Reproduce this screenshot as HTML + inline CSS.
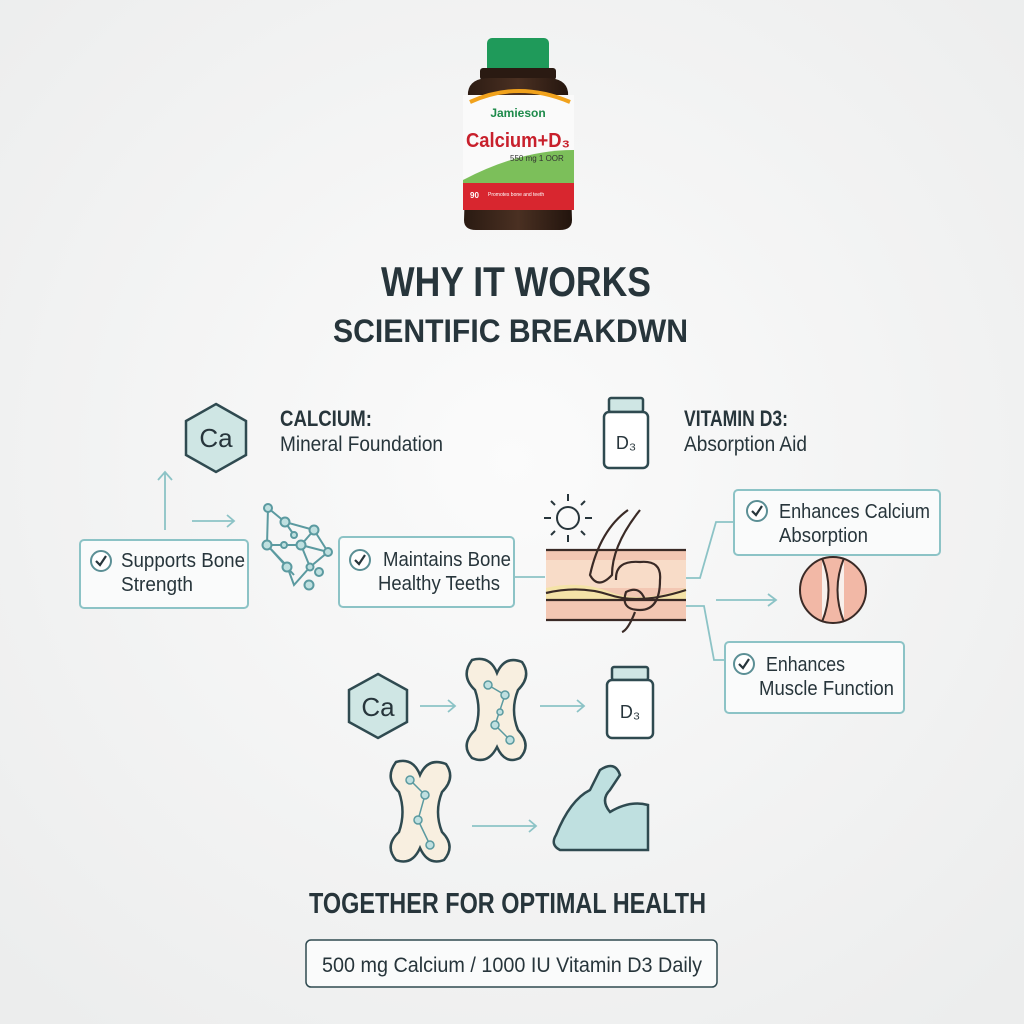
<!DOCTYPE html>
<html><head><meta charset="utf-8"><style>
html,body{margin:0;padding:0;width:1024px;height:1024px;overflow:hidden;background:#f3f4f4}
svg{display:block}
text{font-family:"Liberation Sans",sans-serif;fill:#27353b}
</style></head><body>
<svg width="1024" height="1024" viewBox="0 0 1024 1024" xmlns="http://www.w3.org/2000/svg">
<defs>
<radialGradient id="bg" cx="50%" cy="45%" r="70%"><stop offset="0" stop-color="#fbfbfb"/><stop offset="1" stop-color="#eceded"/></radialGradient>
<linearGradient id="bot" x1="0" x2="1"><stop offset="0" stop-color="#2a1a12"/><stop offset=".5" stop-color="#4a3022"/><stop offset="1" stop-color="#22140d"/></linearGradient>
</defs>
<rect width="1024" height="1024" fill="url(#bg)"/>

<!-- product bottle -->
<rect x="487" y="38" width="62" height="36" rx="5" fill="#1f9a5a"/>
<rect x="480" y="68" width="76" height="12" rx="3" fill="#2a1a12"/>
<path d="M468 92 Q470 78 490 78 L546 78 Q566 78 568 92 L572 220 Q572 230 560 230 L476 230 Q464 230 464 220 Z" fill="url(#bot)"/>
<rect x="463" y="95" width="111" height="112" fill="#fafafa"/>
<path d="M463 180 Q520 150 574 150 L574 185 L463 185 Z" fill="#7cbf5a"/>
<rect x="463" y="183" width="111" height="27" fill="#d8262f"/>
<path d="M470 102 Q518 80 570 102" stroke="#f1a21c" stroke-width="4" fill="none"/>
<text x="518" y="117" font-size="12" font-weight="bold" text-anchor="middle" style="fill:#1d8a4a">Jamieson</text>
<text x="466" y="147" font-size="20" font-weight="bold" textLength="104" lengthAdjust="spacingAndGlyphs" style="fill:#c8202c">Calcium+D₃</text>
<text x="510" y="161" font-size="8" style="fill:#333">550 mg  1 OOR</text>
<text x="470" y="198" font-size="8" font-weight="bold" style="fill:#fff">90</text>
<text x="488" y="196" font-size="5" style="fill:#fff">Promotes bone and teeth</text>

<!-- titles -->
<text x="381" y="296" font-size="42" font-weight="bold" textLength="270" lengthAdjust="spacingAndGlyphs">WHY IT WORKS</text>
<text x="333" y="342" font-size="32" font-weight="bold" textLength="355" lengthAdjust="spacingAndGlyphs">SCIENTIFIC BREAKDWN</text>

<!-- Ca hexagon -->
<g stroke="#2f4a50" stroke-width="2.5" fill="#cfe6e4">
<polygon points="216,404 246,421 246,455 216,472 186,455 186,421"/>
<polygon points="378,674 407,690 407,722 378,738 349,722 349,690"/>
</g>
<text x="216" y="447" font-size="26" text-anchor="middle">Ca</text>
<text x="378" y="716" font-size="26" text-anchor="middle">Ca</text>
<text x="280" y="426" font-size="22" font-weight="bold" textLength="92" lengthAdjust="spacingAndGlyphs">CALCIUM:</text>
<text x="280" y="451" font-size="21" textLength="163" lengthAdjust="spacingAndGlyphs">Mineral Foundation</text>

<!-- D3 bottles -->
<g stroke="#2f4a50" stroke-width="2.5" fill="#fff">
<rect x="609" y="398" width="34" height="14" rx="2" fill="#cfe6e4"/>
<rect x="604" y="412" width="44" height="56" rx="5"/>
<rect x="612" y="667" width="36" height="13" rx="2" fill="#cfe6e4"/>
<rect x="607" y="680" width="46" height="58" rx="5"/>
</g>
<text x="626" y="449" font-size="18" text-anchor="middle">D₃</text>
<text x="630" y="718" font-size="18" text-anchor="middle">D₃</text>
<text x="684" y="426" font-size="22" font-weight="bold" textLength="104" lengthAdjust="spacingAndGlyphs">VITAMIN D3:</text>
<text x="684" y="451" font-size="21" textLength="123" lengthAdjust="spacingAndGlyphs">Absorption Aid</text>

<!-- arrows teal -->
<g stroke="#8cc3c6" stroke-width="1.8" fill="none">
<path d="M165 530 V472 M158 480 L165 472 L172 480"/>
<path d="M192 521 H234 M227 515 L234 521 L227 527"/>
<path d="M514 577 H545"/>
<path d="M686 578 H700 L716 522 H734"/>
<path d="M716 600 H776 M768 594 L776 600 L768 606"/>
<path d="M686 606 H704 L714 660 H725"/>
<path d="M420 706 H455 M448 700 L455 706 L448 712"/>
<path d="M540 706 H584 M577 700 L584 706 L577 712"/>
<path d="M472 826 H536 M529 820 L536 826 L529 832"/>
</g>

<!-- network -->
<g stroke="#5b9aa0" stroke-width="2" fill="#bfe0e0">
<path d="M268 508 L285 522 L314 530 L328 552 L310 567 L294 585 L287 566 L267 545 L268 508 M267 545 L300 545 L301 545 L314 530 M301 545 L328 552 M267 545 L294 575 M301 545 L310 567 M285 522 L294 535" fill="none"/>
<circle cx="268" cy="508" r="4"/><circle cx="285" cy="522" r="4.5"/><circle cx="314" cy="530" r="4.5"/>
<circle cx="328" cy="552" r="4"/><circle cx="267" cy="545" r="4.5"/><circle cx="301" cy="545" r="4.5"/>
<circle cx="284" cy="545" r="3"/><circle cx="287" cy="567" r="4.5"/><circle cx="310" cy="567" r="3.5"/>
<circle cx="319" cy="572" r="4"/><circle cx="309" cy="585" r="4.5"/><circle cx="294" cy="535" r="3"/>
</g>

<!-- boxes -->
<g stroke="#8cc3c6" stroke-width="2" fill="#fafbfb">
<rect x="80" y="540" width="168" height="68" rx="4"/>
<rect x="339" y="537" width="175" height="70" rx="4"/>
<rect x="734" y="490" width="206" height="65" rx="4"/>
<rect x="725" y="642" width="179" height="71" rx="4"/>
<rect x="306" y="940" width="411" height="47" rx="5" stroke="#2f4a50" stroke-width="1.5"/>
</g>
<g stroke="#5b8f95" stroke-width="2" fill="#fff">
<circle cx="101" cy="561" r="10"/><circle cx="360" cy="560" r="10"/>
<circle cx="757" cy="511" r="10"/><circle cx="744" cy="664" r="10"/>
</g>
<g stroke="#27353b" stroke-width="2.2" fill="none">
<path d="M96 561 L100 565 L106 556"/><path d="M355 560 L359 564 L365 555"/>
<path d="M752 511 L756 515 L762 506"/><path d="M739 664 L743 668 L749 659"/>
</g>
<g font-size="20">
<text x="121" y="567" textLength="124" lengthAdjust="spacingAndGlyphs">Supports Bone</text><text x="121" y="591" textLength="72" lengthAdjust="spacingAndGlyphs">Strength</text>
<text x="383" y="566" textLength="128" lengthAdjust="spacingAndGlyphs">Maintains Bone</text><text x="378" y="590" textLength="122" lengthAdjust="spacingAndGlyphs">Healthy Teeths</text>
<text x="779" y="518" textLength="151" lengthAdjust="spacingAndGlyphs">Enhances Calcium</text><text x="779" y="542" textLength="89" lengthAdjust="spacingAndGlyphs">Absorption</text>
<text x="766" y="671" textLength="79" lengthAdjust="spacingAndGlyphs">Enhances</text><text x="759" y="695" textLength="135" lengthAdjust="spacingAndGlyphs">Muscle Function</text>
</g>

<!-- sun -->
<g stroke="#27353b" stroke-width="2" fill="none">
<circle cx="568" cy="518" r="11"/>
<path d="M568 494 V501 M568 535 V542 M544 518 H551 M585 518 H592 M551 501 L555 505 M581 531 L585 535 M585 501 L581 505 M551 535 L555 531"/>
</g>
<!-- skin/intestine -->
<rect x="546" y="550" width="140" height="70" fill="#f3c7b3"/>
<rect x="546" y="560" width="140" height="28" fill="#f8dcc8"/>
<path d="M546 588 Q580 580 610 592 T686 588 V600 H546 Z" fill="#f5e3a8"/>
<g stroke="#3a2a26" stroke-width="2.2" fill="none">
<path d="M546 550 H686 M546 620 H686 M546 600 H686 M546 593 Q580 585 610 595 T686 590"/>
<path d="M628 510 Q600 530 590 575 Q598 590 612 575 Q612 545 640 510"/>
<path d="M616 580 Q615 560 640 562 Q662 560 660 580 Q660 610 640 610 Q620 610 626 592 Q640 585 645 600 M635 612 Q628 630 622 632"/>
</g>
<!-- bone cross-section -->
<circle cx="833" cy="590" r="33" fill="#f2b8a6" stroke="#3a2a26" stroke-width="2"/>
<path d="M822 558 Q835 590 822 622 M844 558 Q831 590 844 622" stroke="#3a2a26" stroke-width="2" fill="#f8f0ec"/>

<!-- bones -->
<g stroke="#2f4a50" stroke-width="2.5" fill="#f8efe0">
<path d="M472 660 Q490 655 497 673 Q505 655 522 662 Q532 676 518 690 Q510 710 518 730 Q532 745 520 758 Q505 765 497 747 Q488 765 472 758 Q460 745 475 730 Q482 710 475 690 Q460 676 472 660 Z"/>
<path d="M396 762 Q413 757 420 775 Q428 757 446 764 Q456 778 442 792 Q434 812 442 832 Q456 846 444 860 Q428 866 420 848 Q412 866 396 860 Q384 846 399 832 Q406 812 399 792 Q384 778 396 762 Z"/>
</g>
<g stroke="#5b9aa0" stroke-width="1.5" fill="#bfe0e0">
<path d="M488 685 L505 695 L495 725 L510 740 M500 710 L495 725" fill="none"/>
<circle cx="488" cy="685" r="4"/><circle cx="505" cy="695" r="4"/><circle cx="500" cy="712" r="3"/><circle cx="495" cy="725" r="4"/><circle cx="510" cy="740" r="4"/>
<path d="M410 780 L425 795 L418 820 L430 845" fill="none"/>
<circle cx="410" cy="780" r="4"/><circle cx="425" cy="795" r="4"/><circle cx="418" cy="820" r="4"/><circle cx="430" cy="845" r="4"/>
</g>
<!-- arm -->
<path d="M556 835 Q570 800 590 790 L600 770 Q615 760 620 775 L610 790 Q600 800 610 812 Q630 800 648 805 L648 850 L560 850 Q550 845 556 835 Z" fill="#bfe0e0" stroke="#2f4a50" stroke-width="2.5"/>

<!-- footer -->
<text x="309" y="913" font-size="29" font-weight="bold" textLength="397" lengthAdjust="spacingAndGlyphs">TOGETHER FOR OPTIMAL HEALTH</text>
<text x="322" y="972" font-size="21" textLength="380" lengthAdjust="spacingAndGlyphs">500 mg Calcium / 1000 IU Vitamin D3 Daily</text>
</svg>
</body></html>
